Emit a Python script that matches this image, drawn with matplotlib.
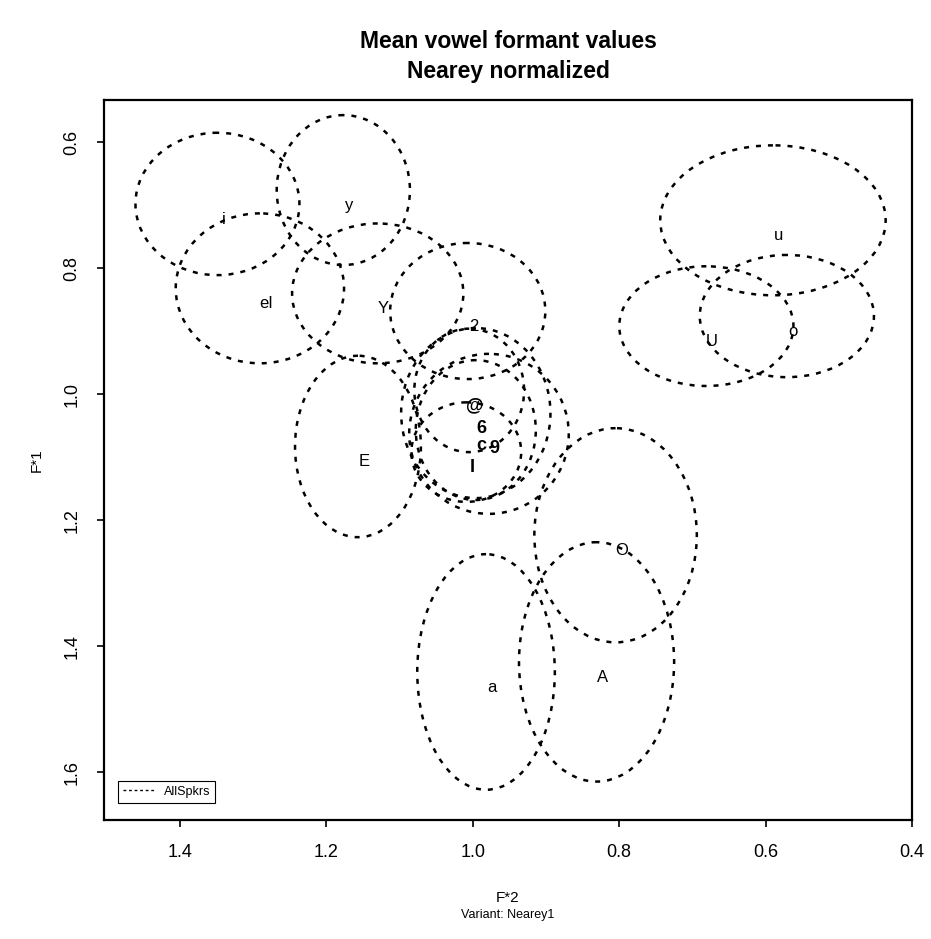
import matplotlib
matplotlib.use("Agg")
import matplotlib.pyplot as plt
from matplotlib.patches import Ellipse
from matplotlib.lines import Line2D

plt.rcParams['font.family'] = ['Liberation Sans', 'DejaVu Sans']

# Datos: medias normalizadas (Nearey) y semiejes de las elipses
vocales = ['i', 'y', 'eI', 'Y', '2', 'E', '@', '6', 'c', '9', 'I',
           'u', 'U', 'o', 'O', 'A', 'a']
f2_media = [1.349, 1.177, 1.291, 1.130, 1.007, 1.157, 1.005, 0.996, 0.996,
            0.978, 1.009, 0.590, 0.681, 0.571, 0.805, 0.831, 0.982]
f1_media = [0.698, 0.676, 0.832, 0.840, 0.868, 1.083, 0.994, 1.030, 1.057,
            1.063, 1.092, 0.724, 0.892, 0.876, 1.224, 1.425, 1.441]
f2_radio = [0.112, 0.091, 0.115, 0.117, 0.106, 0.086, 0.075, 0.102, 0.082,
            0.109, 0.075, 0.154, 0.119, 0.119, 0.111, 0.106, 0.094]
f1_radio = [0.113, 0.119, 0.119, 0.111, 0.108, 0.144, 0.098, 0.135, 0.111,
            0.127, 0.079, 0.119, 0.095, 0.097, 0.170, 0.190, 0.187]
centrales = {'@', '6', 'c', '9', 'I'}

x_ticks = [1.4, 1.2, 1.0, 0.8, 0.6, 0.4]
y_ticks = [0.6, 0.8, 1.0, 1.2, 1.4, 1.6]

fig = plt.figure(figsize=(9.31, 9.39), dpi=100)
ax = fig.add_axes([104 / 931, 1 - 820 / 939, 808 / 931, 720 / 939])

# Elipses y etiquetas
for v, x, y, rx, ry in zip(vocales, f2_media, f1_media, f2_radio, f1_radio):
    e = Ellipse((x, y), 2 * rx, 2 * ry, fill=False, edgecolor='black',
                linewidth=1.8, linestyle=(0, (2, 2.8)))
    ax.add_patch(e)
    if v in centrales:
        ax.text(x - 0.008, y + 0.024, v, fontsize=13, fontweight='bold',
                ha='center', va='center')
    else:
        ax.text(x - 0.008, y + 0.024, v, fontsize=12, ha='center', va='center')

ax.set_xlim(1.504, 0.40)
ax.set_ylim(1.676, 0.533)
ax.set_xticks(x_ticks)
ax.set_xticklabels(['%.1f' % t for t in x_ticks])
ax.set_yticks(y_ticks)
ax.set_yticklabels(['%.1f' % t for t in y_ticks], rotation=90, va='center')
ax.tick_params(direction='out', length=5, width=1.2, labelsize=13, pad=12)
for s in ax.spines.values():
    s.set_linewidth(1.6)

# Leyenda
h = Line2D([], [], color='black', linestyle=(0, (2, 2)), linewidth=1)
leg = ax.legend([h], ['AllSpkrs'], loc='lower left', bbox_to_anchor=(0.017, 0.024),
                borderaxespad=0, fancybox=False, edgecolor='black', fontsize=9,
                handlelength=2.5, framealpha=1)
leg.get_frame().set_linewidth(0.8)

# Títulos
ax.set_title("Mean vowel formant values\nNearey normalized", fontsize=16.5,
             fontweight='bold', pad=16, linespacing=1.35)
ax.set_xlabel("F*2", fontsize=11, labelpad=22)
ax.set_ylabel("F*1", fontsize=11, labelpad=14)
fig.text(0.5 * (104 + 912) / 931, 1 - 915 / 939, "Variant: Nearey1", fontsize=9,
         ha='center', va='center')

fig.savefig("out.png", dpi=100)
